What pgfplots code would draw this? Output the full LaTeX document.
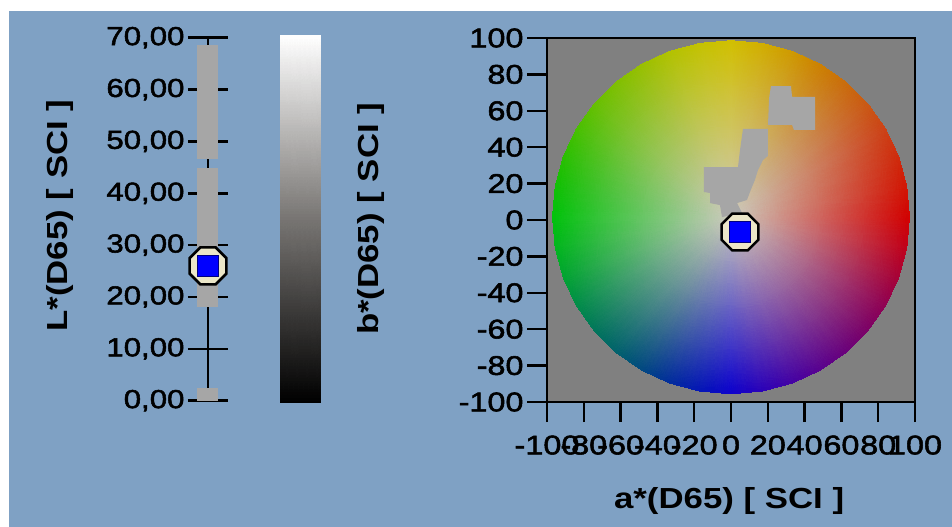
\documentclass[border=0pt]{standalone}
\usepackage{pgfplots}
\pgfplotsset{compat=1.18}
\usepackage{fontspec}
\setmainfont{Liberation Sans}[FakeStretch=1.2]
\newfontfamily\tickfam{Liberation Sans}[FakeStretch=1.2, FakeBold=2]
\definecolor{bg}{RGB}{127,161,196}
\definecolor{plotgray}{RGB}{128,128,128}
\definecolor{blobgray}{RGB}{166,166,166}
\definecolor{ringfill}{RGB}{235,230,200}
\definecolor{markblue}{RGB}{0,0,255}
\pgfdeclareplotmark{octo}{%
 \pgfpathmoveto{\pgfpointpolar{22.5}{\pgfplotmarksize}}%
 \pgfpathlineto{\pgfpointpolar{67.5}{\pgfplotmarksize}}%
 \pgfpathlineto{\pgfpointpolar{112.5}{\pgfplotmarksize}}%
 \pgfpathlineto{\pgfpointpolar{157.5}{\pgfplotmarksize}}%
 \pgfpathlineto{\pgfpointpolar{202.5}{\pgfplotmarksize}}%
 \pgfpathlineto{\pgfpointpolar{247.5}{\pgfplotmarksize}}%
 \pgfpathlineto{\pgfpointpolar{292.5}{\pgfplotmarksize}}%
 \pgfpathlineto{\pgfpointpolar{337.5}{\pgfplotmarksize}}%
 \pgfpathclose
 \pgfusepathqfillstroke
}
\newcommand{\tickfont}{\tickfam\fontsize{26bp}{30bp}\selectfont}
\newcommand{\abtickfont}{\tickfam\fontsize{27bp}{30bp}\selectfont}
\newcommand{\titlefont}{\bfseries\fontsize{29bp}{32bp}\selectfont}
\begin{document}
\begin{tikzpicture}
\useasboundingbox (0,0) rectangle (952bp,527bp);
\fill[white] (0,0) rectangle (952bp,527bp);
\fill[bg] (9bp,0) rectangle (952bp,516bp);

% ---------------- L* axis ----------------
\begin{axis}[
  at={(208bp,126.3bp)}, anchor=south west, scale only axis,
  width=20bp, height=363bp,
  xmin=0, xmax=1, ymin=0, ymax=70,
  axis y line*=left, axis x line=none,
  ytick={0,10,...,70},
  tick align=center, major tick length=40bp,
  axis line style={line width=2.5bp, black, -},
  tick style={line width=2.5bp, black},
  clip=false,
  yticklabel style={font=\tickfont, /pgf/number format/.cd, fixed, fixed zerofill, precision=2, use comma, assume math mode=true},
  ylabel={L*(D65) [ SCI ]},
  ylabel style={font=\titlefont, at={(rel axis cs:-7.4,0.51)}, anchor=center},
]
\addplot[fill=blobgray, draw=none] coordinates {(-0.55,46.7) (0.5,46.7) (0.5,68.5) (-0.55,68.5)} -- cycle;
\addplot[fill=blobgray, draw=none] coordinates {(-0.55,18.1) (0.5,18.1) (0.5,44.8) (-0.55,44.8)} -- cycle;
\addplot[fill=blobgray, draw=none] coordinates {(-0.55,0) (0.5,0) (0.5,2.4) (-0.55,2.4)} -- cycle;
\addplot[only marks, mark=octo, mark size=20bp, mark options={fill=ringfill, draw=black, line width=2.5bp}] coordinates {(0,26)};
\addplot[only marks, mark=square*, mark size=10.5bp, mark options={fill=markblue, draw=markblue!50!black, line width=1bp}] coordinates {(0,26)};
\end{axis}

% ---------------- grey scale bar ----------------
\begin{axis}[
  at={(280bp,124bp)}, anchor=south west, scale only axis,
  width=40bp, height=367bp, hide axis,
  xmin=0, xmax=1, ymin=0, ymax=1,
]
\addplot[patch, patch type=rectangle, shader=interp, mesh/color input=explicit] table[meta=c] {
x y c
0 0 0,0,0
1 0 0,0,0
1 0.5 0.47,0.46,0.45
0 0.5 0.47,0.46,0.45
0 0.5 0.47,0.46,0.45
1 0.5 0.47,0.46,0.45
1 1 1,1,1
0 1 1,1,1
};
\end{axis}

% ---------------- a*b* axis ----------------
\begin{axis}[
  at={(547bp,125bp)}, anchor=south west, scale only axis,
  width=368bp, height=364bp,
  xmin=-100, xmax=100, ymin=-100, ymax=100,
  xtick={-100,-80,...,100}, ytick={-100,-80,...,100},
  tick pos=left, tick align=outside, major tick length=20bp,
  axis line style={line width=2.5bp, black},
  tick style={line width=2.5bp, black},
  axis background/.style={fill=plotgray},
  ticklabel style={font=\abtickfont, /pgf/number format/assume math mode=true},
  xticklabel style={yshift=-10bp},
  xlabel={a*(D65) [ SCI ]},
  ylabel={b*(D65) [ SCI ]},
  xlabel style={font=\titlefont, at={(rel axis cs:0.495,-0.272)}, anchor=center},
  ylabel style={font=\titlefont, at={(rel axis cs:-0.478,0.503)}, anchor=center},
]
\addplot[patch, shader=interp, mesh/color input=explicit] table[meta=c] {
x y c
0 1.5 0.80,0.79,0.74
97.00 1.50 0.82,0.00,0.00
95.53 18.34 0.82,0.08,0.01
0 1.5 0.80,0.79,0.74
95.53 18.34 0.82,0.08,0.01
91.15 34.68 0.81,0.16,0.04
0 1.5 0.80,0.79,0.74
91.15 34.68 0.81,0.16,0.04
84.00 50.00 0.80,0.25,0.08
0 1.5 0.80,0.79,0.74
84.00 50.00 0.80,0.25,0.08
74.31 63.85 0.79,0.34,0.07
0 1.5 0.80,0.79,0.74
74.31 63.85 0.79,0.34,0.07
62.35 75.81 0.79,0.42,0.04
0 1.5 0.80,0.79,0.74
62.35 75.81 0.79,0.42,0.04
48.50 85.50 0.80,0.50,0.00
0 1.5 0.80,0.79,0.74
48.50 85.50 0.80,0.50,0.00
33.18 92.65 0.81,0.60,0.00
0 1.5 0.80,0.79,0.74
33.18 92.65 0.81,0.60,0.00
16.84 97.03 0.82,0.68,0.00
0 1.5 0.80,0.79,0.74
16.84 97.03 0.82,0.68,0.00
0.00 98.50 0.82,0.75,0.00
0 1.5 0.80,0.79,0.74
0.00 98.50 0.82,0.75,0.00
-16.84 97.03 0.77,0.76,0.00
0 1.5 0.80,0.79,0.74
-16.84 97.03 0.77,0.76,0.00
-33.18 92.65 0.70,0.76,0.00
0 1.5 0.80,0.79,0.74
-33.18 92.65 0.70,0.76,0.00
-48.50 85.50 0.60,0.75,0.00
0 1.5 0.80,0.79,0.74
-48.50 85.50 0.60,0.75,0.00
-62.35 75.81 0.50,0.75,0.00
0 1.5 0.80,0.79,0.74
-62.35 75.81 0.50,0.75,0.00
-74.31 63.85 0.40,0.75,0.00
0 1.5 0.80,0.79,0.74
-74.31 63.85 0.40,0.75,0.00
-84.00 50.00 0.28,0.75,0.00
0 1.5 0.80,0.79,0.74
-84.00 50.00 0.28,0.75,0.00
-91.15 34.68 0.16,0.75,0.00
0 1.5 0.80,0.79,0.74
-91.15 34.68 0.16,0.75,0.00
-95.53 18.34 0.06,0.75,0.01
0 1.5 0.80,0.79,0.74
-95.53 18.34 0.06,0.75,0.01
-97.00 1.50 0.00,0.76,0.04
0 1.5 0.80,0.79,0.74
-97.00 1.50 0.00,0.76,0.04
-95.53 -15.34 0.00,0.71,0.11
0 1.5 0.80,0.79,0.74
-95.53 -15.34 0.00,0.71,0.11
-91.15 -31.68 0.00,0.64,0.19
0 1.5 0.80,0.79,0.74
-91.15 -31.68 0.00,0.64,0.19
-84.00 -47.00 0.00,0.55,0.28
0 1.5 0.80,0.79,0.74
-84.00 -47.00 0.00,0.55,0.28
-74.31 -60.85 0.00,0.46,0.35
0 1.5 0.80,0.79,0.74
-74.31 -60.85 0.00,0.46,0.35
-62.35 -72.81 0.00,0.38,0.42
0 1.5 0.80,0.79,0.74
-62.35 -72.81 0.00,0.38,0.42
-48.50 -82.50 0.00,0.28,0.50
0 1.5 0.80,0.79,0.74
-48.50 -82.50 0.00,0.28,0.50
-33.18 -89.65 0.00,0.17,0.61
0 1.5 0.80,0.79,0.74
-33.18 -89.65 0.00,0.17,0.61
-16.84 -94.03 0.01,0.08,0.71
0 1.5 0.80,0.79,0.74
-16.84 -94.03 0.01,0.08,0.71
0.00 -95.50 0.04,0.00,0.80
0 1.5 0.80,0.79,0.74
0.00 -95.50 0.04,0.00,0.80
16.84 -94.03 0.16,0.00,0.72
0 1.5 0.80,0.79,0.74
16.84 -94.03 0.16,0.00,0.72
33.18 -89.65 0.26,0.00,0.64
0 1.5 0.80,0.79,0.74
33.18 -89.65 0.26,0.00,0.64
48.50 -82.50 0.34,0.00,0.56
0 1.5 0.80,0.79,0.74
48.50 -82.50 0.34,0.00,0.56
62.35 -72.81 0.41,0.00,0.48
0 1.5 0.80,0.79,0.74
62.35 -72.81 0.41,0.00,0.48
74.31 -60.85 0.48,0.00,0.40
0 1.5 0.80,0.79,0.74
74.31 -60.85 0.48,0.00,0.40
84.00 -47.00 0.56,0.00,0.32
0 1.5 0.80,0.79,0.74
84.00 -47.00 0.56,0.00,0.32
91.15 -31.68 0.65,0.00,0.21
0 1.5 0.80,0.79,0.74
91.15 -31.68 0.65,0.00,0.21
95.53 -15.34 0.75,0.00,0.10
0 1.5 0.80,0.79,0.74
95.53 -15.34 0.75,0.00,0.10
97.00 1.50 0.82,0.00,0.00
};
\addplot[fill=blobgray, draw=none] coordinates {
(21.7,73.6) (32.6,73.6) (33.2,67.6) (45.7,67.6) (45.7,49.5) (34.2,49.5) (33.2,52.2) (20.1,52.2) (20.7,67.0)} -- cycle;
\addplot[fill=blobgray, draw=none] coordinates {
(6.5,50.0) (20.1,50.0) (20.1,35.2) (17.4,33.0) (14.7,27.5) (13.0,22.0) (10.3,15.4) (8.7,11.0) (3.3,9.3) (6.0,3.8) (-4.9,1.6) (-6.0,8.2) (-11.4,9.3) (-11.4,14.8) (-14.7,15.4) (-14.7,29.1) (3.8,29.1) (4.9,38.5)} -- cycle;
\addplot[only marks, mark=octo, mark size=20bp, mark options={fill=ringfill, draw=black, line width=2.5bp}] coordinates {(4.9,-6.6)};
\addplot[only marks, mark=square*, mark size=10.5bp, mark options={fill=markblue, draw=markblue!50!black, line width=1bp}] coordinates {(4.9,-6.6)};
\end{axis}
\end{tikzpicture}
\end{document}
